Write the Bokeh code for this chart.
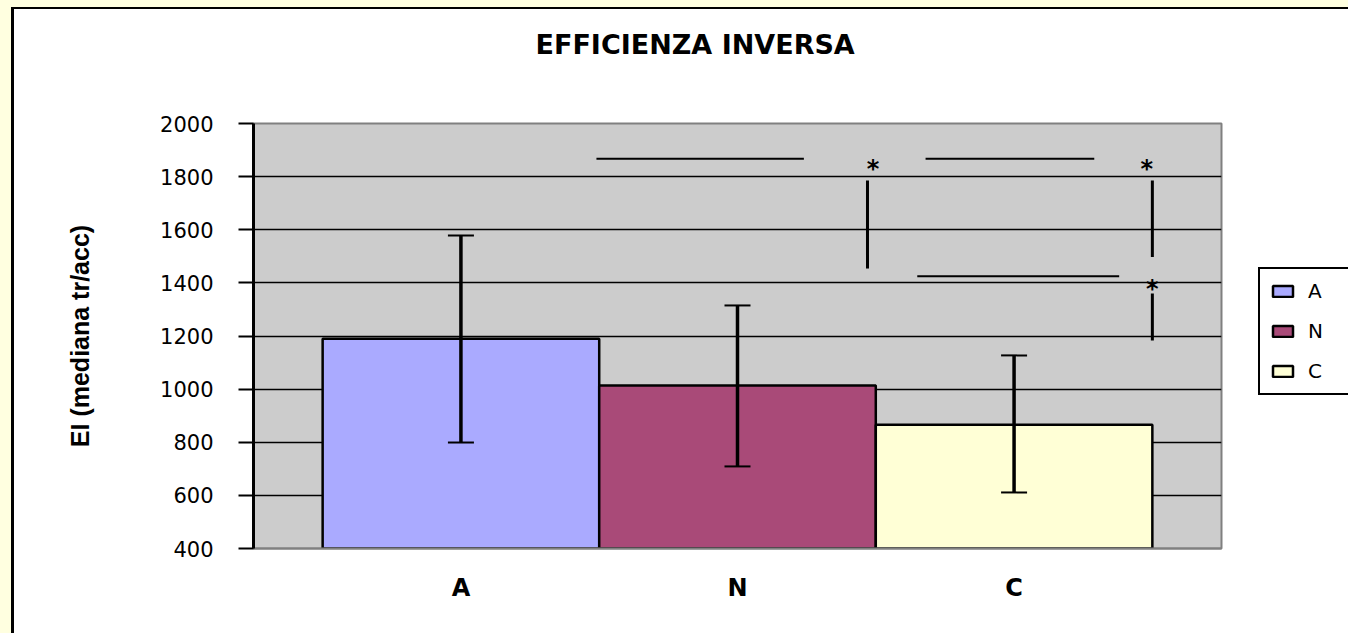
from bokeh.plotting import figure
from bokeh.models import (ColumnDataSource, Range1d, FixedTicker, Whisker, TeeHead,
                          Legend, LegendItem, LinearAxis)
from bokeh.core.properties import value
from bokeh.embed import file_html
from bokeh.resources import INLINE

# ---- data ----
categories = ["A", "N", "C"]
medians = [1190, 1014, 866]
err_upper = [1578, 1315, 1127]
err_lower = [799, 709, 611]
bar_colors = ["#AAAAFF", "#A94A78", "#FFFFD6"]
y_ticks = [400, 600, 800, 1000, 1200, 1400, 1600, 1800, 2000]
y_min, y_max = 400, 2000

# significance brackets (x in category-index units)
hline_x0 = [0.49, 1.68, 1.65]
hline_x1 = [1.24, 2.29, 2.38]
hline_y = [1867, 1867, 1425]
vline_x = [1.47, 2.50, 2.50]
vline_y0 = [1785, 1785, 1360]
vline_y1 = [1454, 1497, 1183]
star_x = [1.49, 2.48, 2.50]
star_y = [1880, 1880, 1428]
star_txt = ["*", "*", "*"]

title_text = "EFFICIENZA INVERSA"
y_label = "EI (mediana tr/acc)"

idx = list(range(len(categories)))

p = figure(frame_width=968, frame_height=425, output_backend="svg", toolbar_location=None,
           x_range=Range1d(-0.75, 2.75), y_range=Range1d(y_min, y_max),
           min_border_left=253, min_border_right=127, min_border_top=123,
           min_border_bottom=85)
p.border_fill_color = None
p.background_fill_color = "#CCCCCC"
p.outline_line_color = "#808080"
p.outline_line_width = 2
p.styles = {"background-color": "white",
            "box-shadow": "inset 11px 7px 0 0 #FFFFE0, inset 14px 9px 0 0 #000000"}

# spacer between title and plot area (practically invisible)
spacer = LinearAxis(ticker=FixedTicker(ticks=[idx[0]]), axis_line_color=None,
                    major_tick_line_color="white", major_tick_line_alpha=0.01,
                    major_tick_line_width=1, minor_tick_line_color=None,
                    major_tick_out=59, major_tick_in=0, minor_tick_out=0,
                    major_label_standoff=0, major_label_overrides={idx[0]: ""})
p.add_layout(spacer, "above")

# title
p.title.text = title_text
p.title.align = "left"
p.title.offset = 282
p.title.text_font = "DejaVu Sans"
p.title.text_font_style = "bold"
p.title.text_font_size = "27px"
p.title.text_color = "black"

# grid
p.xgrid.visible = False
p.ygrid.ticker = FixedTicker(ticks=y_ticks)
p.ygrid.grid_line_color = "black"
p.ygrid.grid_line_width = 1.7

# bars
src = ColumnDataSource(dict(x=idx, top=medians, color=bar_colors, cat=categories,
                            upper=err_upper, lower=err_lower))
bars = p.vbar(x="x", top="top", bottom=y_min, width=1.0, fill_color="color",
              line_color="black", line_width=2.5, source=src)

# error bars
wh = Whisker(base="x", upper="upper", lower="lower", source=src,
             line_color="black", line_width=3.5, level="annotation",
             upper_head=TeeHead(size=26, line_width=2, line_color="black"),
             lower_head=TeeHead(size=26, line_width=2, line_color="black"))
p.add_layout(wh)

# significance marks
p.segment(x0=hline_x0, x1=hline_x1, y0=hline_y, y1=hline_y, line_color="black", line_width=2)
p.segment(x0=vline_x, x1=vline_x, y0=vline_y0, y1=vline_y1, line_color="black", line_width=3)
p.text(x=star_x, y=star_y, text=star_txt, text_align="center", text_baseline="alphabetic",
       y_offset=14, text_font=value("DejaVu Sans"), text_font_style="bold",
       text_font_size="24px", text_color="black")

# axes
p.yaxis.ticker = FixedTicker(ticks=y_ticks)
p.yaxis.major_label_text_font = "DejaVu Sans"
p.yaxis.major_label_text_font_size = "21px"
p.yaxis.major_label_text_color = "black"
p.yaxis.major_tick_out = 15
p.yaxis.major_tick_in = 0
p.yaxis.major_tick_line_width = 2
p.yaxis.major_tick_line_color = "black"
p.yaxis.minor_tick_line_color = None
p.yaxis.major_label_standoff = 25
p.yaxis.axis_line_color = "black"
p.yaxis.axis_line_width = 3
p.yaxis.axis_label = y_label
p.yaxis.axis_label_text_font = "Liberation Sans"
p.yaxis.axis_label_text_font_style = "bold"
p.yaxis.axis_label_text_font_size = "25px"
p.yaxis.axis_label_text_color = "black"
p.yaxis.axis_label_standoff = 63

xaxis = p.below[0]
xaxis.ticker = FixedTicker(ticks=idx)
xaxis.major_label_overrides = {i: c for i, c in zip(idx, categories)}
xaxis.major_label_text_font = "DejaVu Sans"
xaxis.major_label_text_font_style = "bold"
xaxis.major_label_text_font_size = "24px"
xaxis.major_label_text_color = "black"
xaxis.major_tick_line_color = None
xaxis.minor_tick_line_color = None
xaxis.major_tick_out = 0
xaxis.major_label_standoff = 25
xaxis.axis_line_color = "#808080"
xaxis.axis_line_width = 2

# legend
items = [LegendItem(label=c, renderers=[bars], index=i) for i, c in enumerate(categories)]
legend = Legend(items=items, location=(37, 153), orientation="vertical",
                border_line_color="black", border_line_width=2, border_line_alpha=1.0,
                background_fill_color="white", background_fill_alpha=1.0,
                glyph_width=25, glyph_height=14, label_text_font="DejaVu Sans",
                label_text_font_size="20px", label_text_color="black",
                label_standoff=13, padding=10, label_width=44, spacing=16, margin=0)
p.add_layout(legend, "right")

open("out.html", "w").write(file_html(p, INLINE))
